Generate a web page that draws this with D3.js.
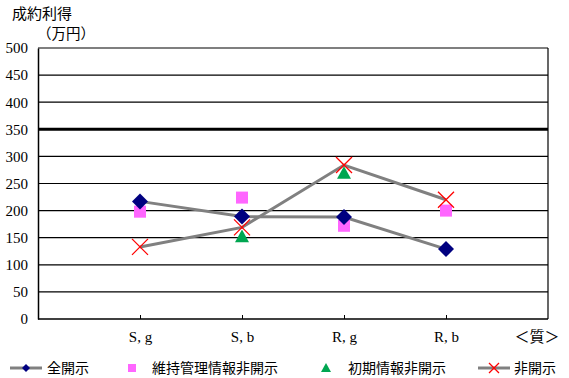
<!DOCTYPE html>
<html><head><meta charset="utf-8">
<script src="https://cdn.jsdelivr.net/npm/d3@7/dist/d3.min.js"></script>
<style>body{margin:0;background:#fff}svg{display:block}</style>
</head><body>
<script>
const categories = ["S, g", "S, b", "R, g", "R, b"];
const yTicks = [0, 50, 100, 150, 200, 250, 300, 350, 400, 450, 500];
const seriesNames = ["全開示", "維持管理情報非開示", "初期情報非開示", "非開示"];
const allOpen = [217, 189, 188, 129];
const maintHidden = [198, 224, 172, 200];
const initHidden = [null, 152, 269, null];
const noneOpen = [133, 169, 284, 220];
const thresholdValue = 350;

const W = 569, H = 378;
const svg = d3.select("body").append("svg").attr("width", W).attr("height", H);
const m = {l: 38, r: 548, t: 48, b: 319};
const x = d3.scalePoint().domain(["_a", ...categories, "_b"]).range([m.l, m.r]);
const y = d3.scaleLinear().domain([0, 500]).range([m.b, m.t]);
const serif = "'Liberation Serif','DejaVu Serif',serif";
const cjk = "'Noto Sans CJK JP',sans-serif";

// gridlines
svg.append("g").selectAll("line").data(yTicks.filter(d => d > 0)).join("line")
  .attr("x1", m.l).attr("x2", m.r).attr("y1", d => y(d)).attr("y2", d => y(d))
  .attr("stroke", "#000").attr("stroke-width", d => d === thresholdValue ? 3 : 1.2);
// frame right
svg.append("line").attr("x1", m.r).attr("x2", m.r).attr("y1", m.t).attr("y2", m.b).attr("stroke", "#000").attr("stroke-width", 1.2);

// y axis
const ya = svg.append("g").attr("transform", `translate(${m.l},0)`)
  .call(d3.axisLeft(y).tickValues(yTicks).tickSize(0).tickPadding(10));
ya.select(".domain").attr("stroke", "#000").attr("stroke-width", 1.5);
ya.selectAll("text").attr("font-family", serif).attr("font-size", 15).attr("fill", "#000");

// x axis
const xa = svg.append("g").attr("transform", `translate(0,${m.b})`)
  .call(d3.axisBottom(x).tickValues(categories).tickSize(-4).tickPadding(10));
xa.select(".domain").attr("stroke", "#000").attr("stroke-width", 1.5).attr("d", `M${m.l},0H${m.r}`);
xa.selectAll(".tick line").attr("stroke", "#000");
xa.selectAll("text").attr("font-family", serif).attr("font-size", 15).attr("fill", "#000").attr("dy", "0.85em");

svg.append("text").attr("x", 537).attr("y", 342).attr("text-anchor", "middle")
  .attr("font-family", cjk).attr("font-size", 15).text("＜質＞");
svg.append("text").attr("x", 12).attr("y", 19).attr("font-family", cjk).attr("font-size", 15).text("成約利得");
svg.append("text").attr("x", 37).attr("y", 39).attr("font-family", cjk).attr("font-size", 14.5).text("（万円）");

const pts = arr => arr.map((v, i) => ({c: categories[i], v})).filter(d => d.v != null);
const line = d3.line().x(d => x(d.c)).y(d => y(d.v));
const gray = "#808080";

svg.append("path").attr("d", line(pts(allOpen))).attr("fill", "none").attr("stroke", gray).attr("stroke-width", 3);
svg.append("path").attr("d", line(pts(noneOpen))).attr("fill", "none").attr("stroke", gray).attr("stroke-width", 3);

const diamond = (g, cx, cy, s) => g.append("path").attr("d", `M${cx},${cy - s}L${cx + s},${cy}L${cx},${cy + s}L${cx - s},${cy}Z`).attr("fill", "#000080");
const square = (g, cx, cy, s) => g.append("rect").attr("x", cx - s).attr("y", cy - s).attr("width", 2 * s).attr("height", 2 * s).attr("fill", "#FF66FF");
const tri = (g, cx, cy, s) => g.append("path").attr("d", `M${cx},${cy - s}L${cx + s},${cy + s * 0.8}L${cx - s},${cy + s * 0.8}Z`).attr("fill", "#00A651");
const cross = (g, cx, cy, s) => g.append("path").attr("d", `M${cx - s},${cy - s}L${cx + s},${cy + s}M${cx + s},${cy - s}L${cx - s},${cy + s}`).attr("stroke", "#FF0000").attr("stroke-width", 1.3).attr("fill", "none");

const mk = svg.append("g");
pts(maintHidden).forEach(d => square(mk, x(d.c), y(d.v), 6));
pts(initHidden).forEach(d => tri(mk, x(d.c), y(d.v), 7));
pts(allOpen).forEach(d => diamond(mk, x(d.c), y(d.v), 8));
pts(noneOpen).forEach(d => cross(mk, x(d.c), y(d.v), 8));

// legend
const lg = svg.append("g");
const ly = 368;
lg.append("line").attr("x1", 10).attr("x2", 42).attr("y1", ly).attr("y2", ly).attr("stroke", gray).attr("stroke-width", 3);
diamond(lg, 26, ly, 4);
square(lg, 132, ly, 4);
tri(lg, 326, ly, 5);
lg.append("line").attr("x1", 478).attr("x2", 510).attr("y1", ly).attr("y2", ly).attr("stroke", gray).attr("stroke-width", 3);
cross(lg, 494, ly, 5);
const lx = [47, 152, 348, 514];
seriesNames.forEach((n, i) => lg.append("text").attr("x", lx[i]).attr("y", ly + 5).attr("font-family", cjk).attr("font-size", 14).text(n));
</script>
</body></html>
